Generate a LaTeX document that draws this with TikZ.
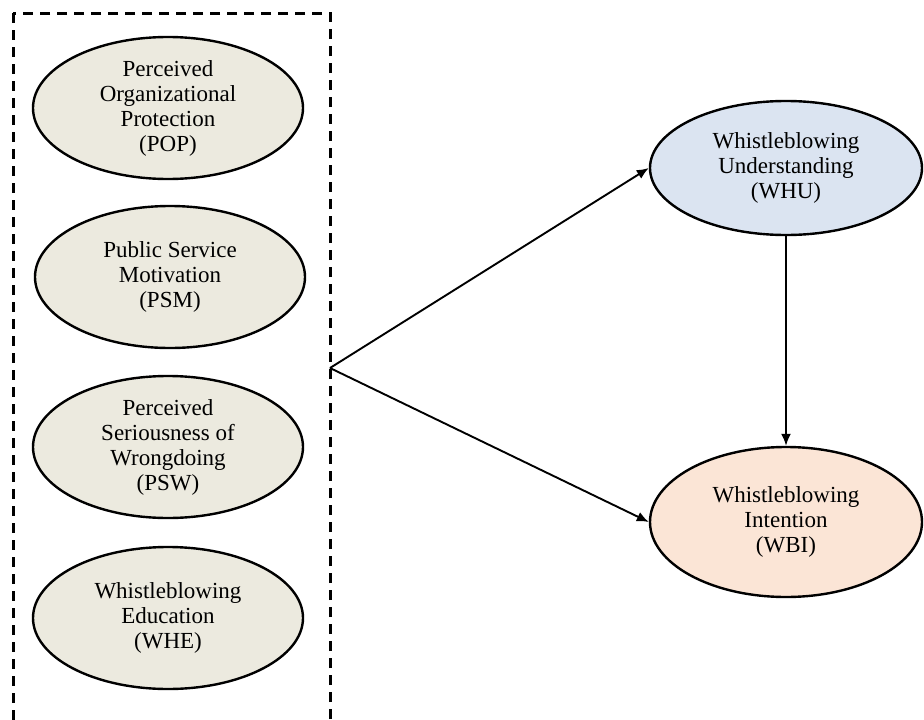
\documentclass[tikz,border=0pt]{standalone}
\usepackage{fontspec}
\setmainfont{Liberation Serif}
\usepackage{xcolor}
\usetikzlibrary{shapes.geometric,arrows.meta}
\definecolor{factorbeige}{RGB}{236,234,223}
\definecolor{mediatorblue}{RGB}{219,228,241}
\definecolor{outcomepeach}{RGB}{251,229,214}

\tikzset{
  construct/.style={ellipse, draw=black, line width=2.4pt, inner sep=0pt,
    minimum width=270pt, minimum height=142pt, align=center,
    font=\fontsize{23}{25}\selectfont},
  path arrow/.style={line width=1.9pt, -{Latex[length=12pt,width=10pt]}}
}

\begin{document}
\begin{tikzpicture}[x=1pt,y=-1pt]
    \clip (0,0) rectangle (924,720);
    % group of antecedents
    \draw[line width=3pt, dash pattern=on 10pt off 7pt] (13,13) rectangle (330,760);
    \node[construct, fill=factorbeige] (pop) at (168,108) {Perceived\\Organizational\\Protection\\(POP)};
    \node[construct, fill=factorbeige] (psm) at (170,277) {Public Service\\Motivation\\(PSM)};
    \node[construct, fill=factorbeige] (psw) at (168,447) {Perceived\\Seriousness of\\Wrongdoing\\(PSW)};
    \node[construct, fill=factorbeige] (whe) at (168,618) {Whistleblowing\\Education\\(WHE)};
    % outcome side
    \node[construct, fill=mediatorblue, minimum width=272pt, minimum height=134pt] (whu) at (786,168) {Whistleblowing\\Understanding\\(WHU)};
    \node[construct, fill=outcomepeach, minimum width=272pt, minimum height=150pt] (wbi) at (786,522) {Whistleblowing\\Intention\\(WBI)};
    % paths
    \coordinate (join) at (330,368);
    \draw[path arrow] (join) -- (whu.west);
    \draw[path arrow] (join) -- (wbi.west);
    \draw[path arrow] (whu.south) -- (wbi.north);
\end{tikzpicture}
\end{document}
